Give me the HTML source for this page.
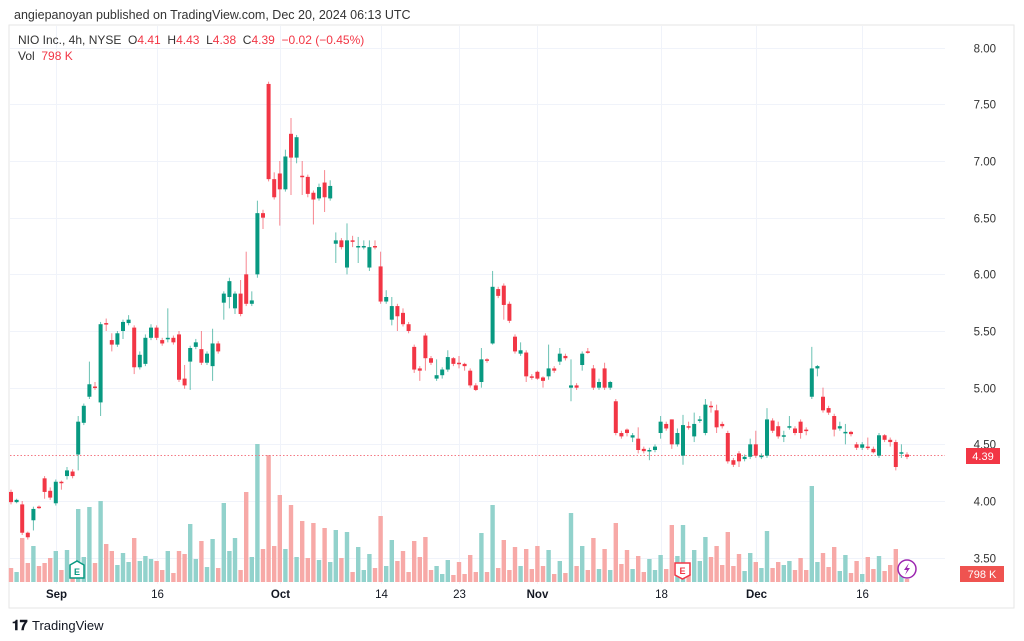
<!DOCTYPE html>
<html><head><meta charset="utf-8">
<style>
body{margin:0;background:#fff;width:1024px;height:641px;overflow:hidden;font-family:"Liberation Sans",sans-serif;}
svg{position:absolute;left:0;top:0}
</style></head>
<body>
<svg id="chart" width="1024" height="641" xmlns="http://www.w3.org/2000/svg">
<text x="14" y="19" font-size="12.5" fill="#333">angiepanoyan published on TradingView.com, Dec 20, 2024 06:13 UTC</text>
<rect x="9" y="25" width="1005" height="583" fill="none" stroke="#e6e6e6"/>
<g id="grid"></g>
<g id="vol"></g>
<line x1="10" x2="945" y1="455.5" y2="455.5" stroke="#f47a84" stroke-dasharray="1.5,2" stroke-width="1"/>
<g id="candles"></g>
<g id="axis"></g>
<g id="xaxis"></g>
<text x="18" y="44" font-size="12" fill="#333" xml:space="preserve">NIO Inc., 4h, NYSE  O<tspan fill="#f23645">4.41</tspan>  H<tspan fill="#f23645">4.43</tspan>  L<tspan fill="#f23645">4.38</tspan>  C<tspan fill="#f23645">4.39</tspan>  <tspan fill="#f23645">−0.02 (−0.45%)</tspan></text>
<text x="18" y="60" font-size="12" fill="#333" xml:space="preserve">Vol  <tspan fill="#f23645">798 K</tspan></text>
<rect x="966" y="448" width="34" height="16" fill="#f23645"/>
<text x="983" y="460" font-size="11" fill="#fff" text-anchor="middle">4.39</text>
<rect x="960" y="566" width="44" height="16" fill="#ef5350"/>
<text x="982" y="578" font-size="11" fill="#fff" text-anchor="middle">798 K</text>
<g><path d="M70,565 L77,561 L84,565 L84,578 L70,578 Z" fill="#fff" stroke="#089981" stroke-width="1.5"/><text x="77" y="575" font-size="9" font-weight="bold" fill="#089981" text-anchor="middle">E</text></g>
<g><path d="M675,563 L690,563 L690,575 L682.5,579 L675,575 Z" fill="#fff" stroke="#f23645" stroke-width="1.5"/><text x="682.5" y="574" font-size="9" font-weight="bold" fill="#f23645" text-anchor="middle">E</text></g>
<g><circle cx="907" cy="569" r="9" fill="#fff" stroke="#9c27b0" stroke-width="1.5"/><path d="M909,563 L904,570 L907,570 L905,575 L910,568 L907,568 Z" fill="#9c27b0"/></g>
<text x="12" y="630" font-size="14" font-weight="bold" fill="#131722">𝟏𝟕</text>
<text x="32" y="630" font-size="13" fill="#131722">TradingView</text>
</svg>
<script>
const opens=[4.08,3.99,3.97,3.72,3.83,3.95,4.2,4.09,3.98,4.17,4.22,4.26,4.41,4.69,4.92,5.01,4.87,5.57,5.42,5.38,5.5,5.57,5.53,5.18,5.21,5.44,5.53,5.42,5.43,5.44,5.47,5.08,5.23,5.36,5.34,5.22,5.19,5.39,5.75,5.8,5.7,5.83,6.0,5.74,6.0,6.54,7.68,6.84,6.89,6.75,7.24,7.03,6.87,6.86,6.72,6.67,6.81,6.67,6.27,6.3,6.06,6.3,6.24,6.24,6.06,6.25,6.07,5.76,5.6,5.72,5.66,5.56,5.36,5.17,5.46,5.26,5.08,5.11,5.16,5.26,5.22,5.21,5.15,5.02,5.05,5.25,5.39,5.87,5.9,5.74,5.45,5.3,5.31,5.1,5.14,5.09,5.1,5.17,5.23,5.28,5.0,5.02,5.2,5.32,5.17,5.0,5.17,5.0,4.88,4.6,4.63,4.56,4.55,4.46,4.44,4.45,4.6,4.68,4.72,4.5,4.4,4.66,4.57,4.71,4.6,4.84,4.8,4.68,4.6,4.36,4.42,4.37,4.39,4.5,4.39,4.4,4.71,4.66,4.57,4.65,4.64,4.7,4.63,4.92,5.17,4.92,4.82,4.75,4.64,4.6,4.61,4.5,4.47,4.48,4.46,4.4,4.58,4.54,4.52,4.42,4.41];
const closes=[3.99,4.01,3.72,3.68,3.93,3.94,4.08,4.03,4.17,4.16,4.27,4.22,4.7,4.84,5.03,5.0,5.56,5.56,5.38,5.48,5.58,5.6,5.18,5.29,5.44,5.53,5.44,5.39,5.44,5.4,5.07,5.02,5.35,5.4,5.22,5.3,5.39,5.32,5.83,5.94,5.83,5.65,5.74,5.77,6.54,6.5,6.84,6.68,6.75,7.04,7.03,7.21,6.86,6.71,6.66,6.77,6.68,6.78,6.3,6.24,6.3,6.29,6.25,6.25,6.24,6.24,5.76,5.8,5.72,5.63,5.56,5.5,5.16,5.15,5.26,5.22,5.11,5.16,5.27,5.21,5.21,5.19,5.02,4.98,5.25,5.24,5.89,5.81,5.73,5.59,5.32,5.33,5.1,5.09,5.08,5.06,5.17,5.15,5.3,5.26,5.02,5.0,5.3,5.31,5.0,5.05,5.0,5.05,4.6,4.57,4.6,4.58,4.45,4.44,4.45,4.48,4.7,4.64,4.5,4.6,4.67,4.65,4.68,4.72,4.85,4.83,4.65,4.66,4.35,4.32,4.35,4.39,4.5,4.4,4.4,4.72,4.62,4.57,4.58,4.66,4.6,4.6,4.62,5.17,5.19,4.8,4.78,4.63,4.66,4.61,4.59,4.47,4.5,4.47,4.43,4.58,4.54,4.52,4.3,4.43,4.39];
const highs=[4.1,4.02,4.0,3.73,3.95,3.96,4.22,4.12,4.19,4.18,4.3,4.28,4.75,4.86,5.23,5.05,5.58,5.61,5.48,5.5,5.6,5.64,5.55,5.32,5.47,5.56,5.55,5.44,5.7,5.46,5.5,5.2,5.37,5.43,5.5,5.32,5.52,5.41,5.85,5.97,5.85,5.95,6.2,5.85,6.65,6.57,7.7,6.9,7.0,7.1,7.38,7.23,7.0,6.88,6.74,6.8,6.92,6.83,6.37,6.32,6.45,6.34,6.33,6.3,6.3,6.3,6.2,5.86,5.8,5.74,5.7,5.58,5.38,5.19,5.48,5.28,5.25,5.18,5.33,5.27,5.28,5.22,5.17,5.04,5.35,5.26,6.03,5.89,5.92,5.76,5.47,5.4,5.33,5.12,5.15,5.1,5.38,5.19,5.35,5.3,5.25,5.04,5.32,5.35,5.2,5.08,5.22,5.06,4.9,4.62,4.64,4.6,4.65,4.48,4.47,4.5,4.75,4.7,4.72,4.64,4.76,4.7,4.78,4.75,4.9,4.88,4.85,4.7,4.62,4.38,4.44,4.41,4.55,4.62,4.42,4.82,4.73,4.7,4.62,4.75,4.66,4.72,4.65,5.36,5.2,5.0,4.84,4.77,4.7,4.68,4.62,4.52,4.52,4.56,4.48,4.6,4.59,4.56,4.54,4.5,4.43];
const lows=[3.97,3.98,3.7,3.66,3.74,3.93,4.02,4.01,3.96,4.1,4.19,4.2,4.27,4.67,4.9,4.98,4.75,5.5,5.32,5.36,5.43,5.55,5.12,5.16,5.19,5.42,5.42,5.37,5.4,5.38,5.05,4.99,4.98,5.34,5.2,5.2,5.06,5.3,5.6,5.7,5.65,5.63,5.72,5.72,5.97,6.4,6.82,6.66,6.43,6.73,6.7,6.98,6.7,6.68,6.44,6.65,6.55,6.65,6.1,6.22,6.0,6.24,6.1,6.22,6.03,6.22,5.74,5.74,5.55,5.5,5.54,5.48,5.13,5.06,5.15,5.2,5.06,5.08,5.14,5.19,5.17,5.15,5.0,4.97,5.0,5.22,5.38,5.79,5.6,5.57,5.3,5.28,5.05,5.07,5.07,5.0,5.07,5.13,5.2,5.24,4.88,4.98,5.15,5.3,4.98,4.98,4.98,4.98,4.58,4.55,4.57,4.52,4.42,4.42,4.36,4.43,4.55,4.62,4.46,4.48,4.32,4.63,4.52,4.69,4.58,4.78,4.6,4.64,4.33,4.3,4.3,4.35,4.37,4.38,4.37,4.38,4.6,4.55,4.52,4.63,4.58,4.55,4.58,4.9,5.1,4.78,4.76,4.57,4.62,4.5,4.57,4.45,4.45,4.45,4.42,4.38,4.52,4.48,4.27,4.38,4.37];
const volumes=[14,10,44,19,36,16,19,24,31,12,32,4,73,25,75,19,81,38,31,17,29,20,44,21,26,23,21,12,31,9,31,28,58,23,41,15,43,14,79,31,44,12,90,25,138,33,127,36,87,33,77,25,61,24,59,22,54,20,52,24,50,10,35,12,28,14,66,16,42,21,31,10,41,25,45,12,16,8,22,7,20,8,27,10,49,10,77,14,42,12,35,16,33,13,36,16,32,8,21,9,69,16,36,12,44,13,33,12,59,18,32,13,26,10,23,12,27,13,57,26,57,8,32,21,45,25,36,17,50,16,28,11,29,20,14,51,14,20,17,21,12,24,12,96,20,29,15,35,11,27,9,21,8,25,13,26,11,17,33,7,3];
const priceTicks=["8.00","7.50","7.00","6.50","6.00","5.50","5.00","4.50","4.00","3.50"];
const dateLabels=["Sep","16","Oct","14","23","Nov","18","Dec","16"];
const dateIndex=[8,26,48,66,80,94,116,133,152];
const boldDates=["Sep","Oct","Nov","Dec"];

const NS="http://www.w3.org/2000/svg";
const xAt=i=>11+i*(896/(opens.length-1));
const yP=p=>501-(p-4)*113.33;
const yV=v=>582-v;
function mk(tag,attrs,parent){const e=document.createElementNS(NS,tag);for(const k in attrs)e.setAttribute(k,attrs[k]);parent.appendChild(e);return e;}
const grid=document.getElementById('grid'),axis=document.getElementById('axis'),xaxis=document.getElementById('xaxis');
priceTicks.forEach(t=>{const y=Math.round(yP(parseFloat(t)))+0.5;
 const l=mk('line',{x1:10,x2:945,y1:y,y2:y,stroke:'#f0f3fa'},grid);
 
 
 const tx=mk('text',{x:996,y:y+4,'font-size':11.5,fill:'#333','text-anchor':'end'},axis);
 tx.textContent=t;
 
 
});
dateLabels.forEach((d,k)=>{const x=Math.round(xAt(dateIndex[k]))+0.5;
 const l=mk('line',{x1:x,x2:x,y1:26,y2:584,stroke:'#f0f3fa'},grid);
 
 
 const tx=mk('text',{x:x,y:598,'font-size':11.5,fill:'#131722','text-anchor':'middle','font-weight':boldDates.includes(d)?'bold':'normal'},xaxis);
 tx.textContent=d;
 
 
});
const vg=document.getElementById('vol'),cg=document.getElementById('candles');
opens.forEach((o,i)=>{const c=closes[i],up=c>=o,x=xAt(i);
 const vb=mk('rect',{x:x-2.2,y:yV(volumes[i]),width:4.4,height:volumes[i],fill:up?'#92d2cc':'#f7a9a7'},vg);
 
 
 const col=up?'#089981':'#f23645';
 const w=mk('line',{x1:x,x2:x,y1:yP(highs[i]),y2:yP(lows[i]),stroke:col,'stroke-width':1,opacity:0.6},cg);
 
 
 const top=yP(Math.max(o,c)),h=Math.max(1.5,yP(Math.min(o,c))-top);
 const b=mk('rect',{x:x-2,y:top,width:4,height:h,fill:col},cg);
 
 
});
</script>
</body></html>
